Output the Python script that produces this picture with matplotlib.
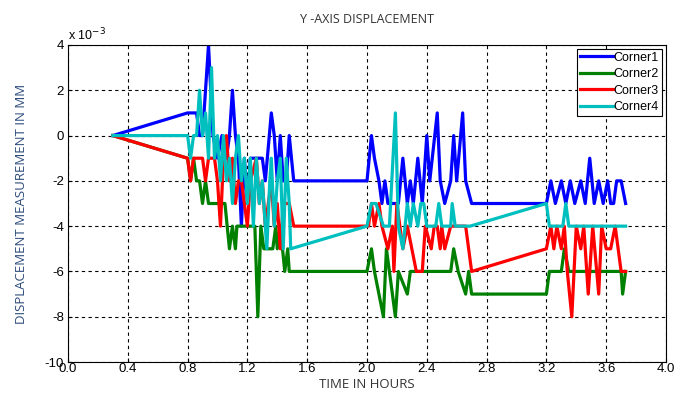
import numpy as np
import matplotlib
matplotlib.use('Agg')
import matplotlib.pyplot as plt
from matplotlib.ticker import FuncFormatter

# Datos (desplazamiento en unidades de 1e-3 mm, tiempo en horas)
t_c1 = [0.30, 0.80, 0.86, 0.88, 0.90, 0.94, 0.97, 1.00, 1.03, 1.06, 1.08, 1.10, 1.12, 1.14, 1.16,
        1.18, 1.20, 1.22, 1.30, 1.32, 1.36, 1.38, 1.40, 1.42, 1.44, 1.46, 1.48, 1.51,
        2.00, 2.03, 2.05, 2.08, 2.10, 2.12, 2.14, 2.21, 2.24, 2.27, 2.29, 2.31, 2.34, 2.37,
        2.40, 2.42, 2.47, 2.49, 2.52, 2.56, 2.58, 2.60, 2.64, 2.66, 2.70,
        3.20, 3.23, 3.26, 3.30, 3.33, 3.36, 3.39, 3.43, 3.46, 3.49, 3.52, 3.55, 3.58, 3.61,
        3.63, 3.65, 3.67, 3.70, 3.73]
y_c1 = [0, 1, 1, 0, 0, 4, 0, -1, 0, -1, 0, 2, 0, -1, -4,
        -1, -3, -1, -1, -2, 1, 0, -2, 0, -2, -2, 0, -2,
        -2, 0, -1, -2, -3, -2, -3, -3, -1, -3, -2, -3, -1, -3,
        0, -2, 1, -2, -3, -2, 0, -2, 1, -2, -3,
        -3, -2, -3, -2, -3, -2, -3, -2, -3, -1, -3, -2, -3, -2,
        -3, -3, -2, -2, -3]

t_c2 = [0.30, 0.80, 0.82, 0.84, 0.86, 0.88, 0.90, 0.92, 0.94, 1.05, 1.08, 1.10, 1.12, 1.13,
        1.25, 1.27, 1.29, 1.31, 1.37, 1.39, 1.40, 1.42, 1.45, 1.47, 1.48, 1.51,
        2.00, 2.03, 2.05, 2.11, 2.13, 2.19, 2.21, 2.27, 2.29, 2.31, 2.56, 2.58, 2.61, 2.66, 2.68,
        2.70, 3.20, 3.22, 3.30, 3.32, 3.35, 3.70, 3.71, 3.73]
y_c2 = [0, -1, -2, -1, -2, -2, -3, -2, -3, -3, -5, -4, -5, -4,
        -4, -8, -4, -5, -5, -4, -5, -4, -6, -5, -6, -6,
        -6, -5, -6, -8, -5, -8, -6, -7, -6, -6, -6, -5, -6, -7, -6,
        -7, -7, -6, -6, -5, -6, -6, -7, -6]

t_c3 = [0.30, 0.80, 0.82, 0.84, 0.90, 0.92, 0.94, 0.98, 1.00, 1.02, 1.04, 1.06, 1.08, 1.10,
        1.12, 1.14, 1.16, 1.18, 1.20, 1.22, 1.26, 1.28, 1.30, 1.32, 1.34, 1.36, 1.38, 1.40,
        1.42, 1.44, 1.48, 1.51,
        2.01, 2.03, 2.05, 2.08, 2.10, 2.14, 2.17, 2.18, 2.20, 2.22, 2.24, 2.27, 2.30, 2.33,
        2.37, 2.39, 2.43, 2.45, 2.47, 2.49, 2.50, 2.52, 2.56, 2.59, 2.66, 2.70,
        3.20, 3.23, 3.25, 3.27, 3.30, 3.32, 3.34, 3.37, 3.40, 3.43, 3.45, 3.48, 3.51, 3.55,
        3.57, 3.60, 3.63, 3.66, 3.70, 3.73]
y_c3 = [0, -1, -2, -1, -1, -2, -1, -1, -2, -4, -1, 0, -2, -1,
        -3, -2, -2, -3, -4, -2, -1, -3, -2, -4, -3, -2, -4, -3,
        -5, -3, -3, -4,
        -4, -3, -4, -3, -4, -5, -4, -6, -3, -4, -5, -4, -5, -6,
        -6, -4, -5, -4, -4, -5, -4, -5, -4, -4, -4, -6,
        -5, -4, -5, -4, -5, -4, -6, -8, -4, -5, -4, -7, -4, -7,
        -4, -5, -5, -4, -6, -6]

t_c4 = [0.30, 0.80, 0.82, 0.84, 0.86, 0.88, 0.90, 0.92, 0.94, 0.96, 0.98, 1.00, 1.02, 1.04,
        1.06, 1.08, 1.10, 1.12, 1.14, 1.16, 1.18, 1.20, 1.22, 1.24, 1.26, 1.28, 1.30, 1.33,
        1.35, 1.36, 1.38, 1.40, 1.42, 1.44, 1.46, 1.48, 1.49,
        2.00, 2.03, 2.06, 2.11, 2.15, 2.19, 2.21, 2.24, 2.27, 2.29, 2.31, 2.34, 2.36, 2.38,
        2.40, 2.46, 2.48, 2.50, 2.56, 2.57, 2.59, 2.69,
        3.20, 3.22, 3.31, 3.33, 3.35, 3.73]
y_c4 = [0, 0, -1, 0, 0, 2, 0, 1, -1, 3, -1, 0, -2, 0,
        -2, -1, -3, -1, 0, -2, -1, -3, -1, -4, -1, -3, -2, -5,
        -2, -1, -4, -2, -1, -5, -1, -3, -5,
        -4, -3, -3, -4, -4, 1, -4, -5, -3, -4, -3, -4, -3, -3,
        -4, -4, -3, -4, -4, -3, -4, -4,
        -3, -4, -4, -3, -4, -4]

series = [('Corner1', t_c1, y_c1, (0, 0, 1)),
          ('Corner2', t_c2, y_c2, (0, 0.5, 0)),
          ('Corner3', t_c3, y_c3, (1, 0, 0)),
          ('Corner4', t_c4, y_c4, (0, 0.75, 0.75))]

plt.rcParams['font.family'] = ['Liberation Sans', 'DejaVu Sans']

fig = plt.figure(figsize=(6.88, 3.94), dpi=100)
ax = fig.add_axes([0.0988, 0.0812, 0.8692, 0.8046])

for nombre, t, y, color in series:
    ax.plot(t, np.array(y) * 1e-3, color=color, lw=2.3, label=nombre)

ax.set_xlim(0, 4)
ax.set_ylim(-10e-3, 4e-3)
ax.set_xticks(np.arange(0, 4.01, 0.4))
ax.set_yticks(np.arange(-10e-3, 4.01e-3, 2e-3))
ax.xaxis.set_major_formatter(FuncFormatter(lambda v, p: '%.1f' % v))
ax.yaxis.set_major_formatter(FuncFormatter(lambda v, p: '%d' % round(v * 1e3)))
ax.tick_params(direction='in', labelsize=9.5, length=3)
ax.tick_params(axis='x', pad=1)
ax.tick_params(axis='y', pad=3)
ax.grid(True, color='black', linestyle=(0, (3, 3)), lw=0.8)
for s in ax.spines.values():
    s.set_linewidth(0.8)

ax.text(0.0, 1.005, r'x 10$^{-3}$', transform=ax.transAxes, fontsize=9, va='bottom')

ax.set_title('Y -AXIS DISPLACEMENT', fontsize=9, color='#333333', family='Open Sans', pad=16)
ax.set_ylabel('DISPLACEMENT MEASUREMENT IN MM', fontsize=9.5, color='#2b4a7a', family='Open Sans', labelpad=12)
ax.set_xlabel('TIME IN HOURS', fontsize=9.5, color='#333333', family='Open Sans', labelpad=2)

leg = ax.legend(loc='upper right', fontsize=9, fancybox=False, edgecolor='black', framealpha=1,
                handlelength=2.6, handletextpad=0.1, borderpad=0.25, labelspacing=0.35,
                borderaxespad=0.3)
leg.get_frame().set_linewidth(0.8)

fig.savefig('out.png', dpi=100)
